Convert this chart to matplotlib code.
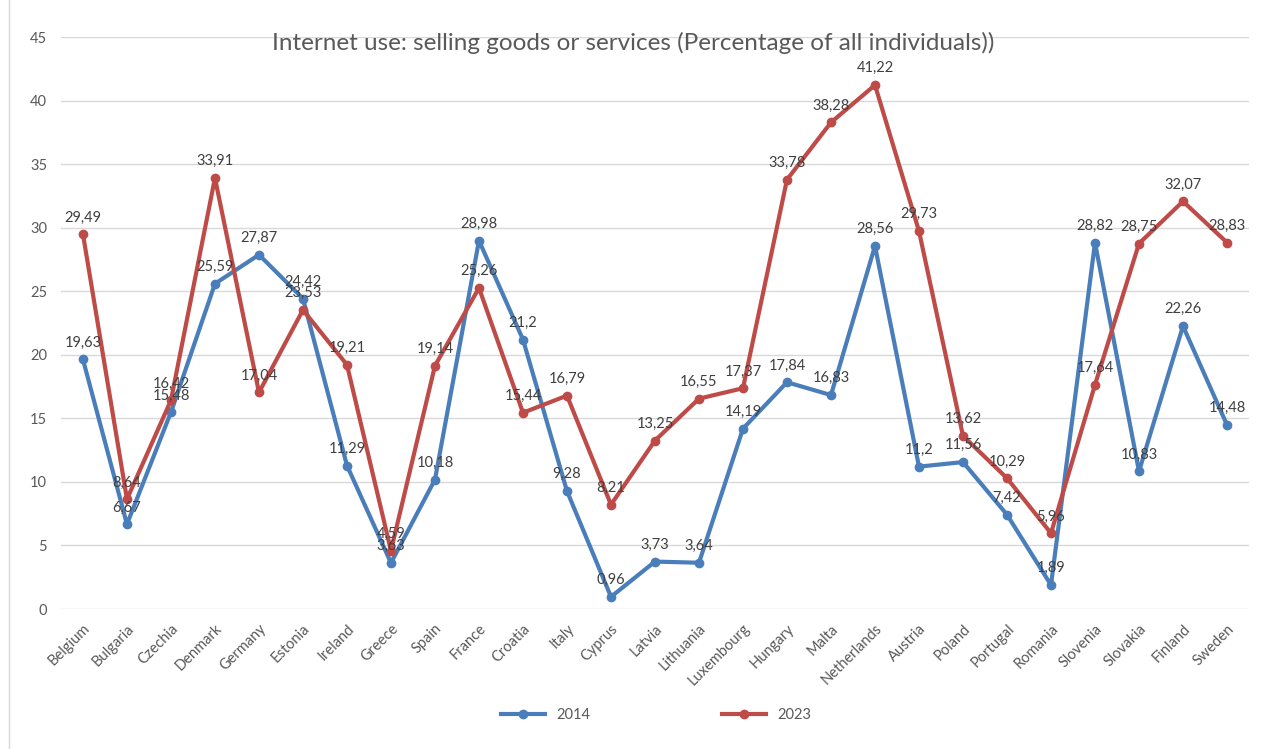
import matplotlib.pyplot as plt

# Share of individuals selling goods or services online
countries = ["Belgium", "Bulgaria", "Czechia", "Denmark", "Germany", "Estonia",
             "Ireland", "Greece", "Spain", "France", "Croatia", "Italy", "Cyprus",
             "Latvia", "Lithuania", "Luxembourg", "Hungary", "Malta", "Netherlands",
             "Austria", "Poland", "Portugal", "Romania", "Slovenia", "Slovakia",
             "Finland", "Sweden"]

values_2014 = [19.63, 6.67, 15.48, 25.59, 27.87, 24.42, 11.29, 3.63, 10.18, 28.98,
               21.2, 9.28, 0.96, 3.73, 3.64, 14.19, 17.84, 16.83, 28.56, 11.2,
               11.56, 7.42, 1.89, 28.82, 10.83, 22.26, 14.48]

values_2023 = [29.49, 8.64, 16.42, 33.91, 17.04, 23.53, 19.21, 4.59, 19.14, 25.26,
               15.44, 16.79, 8.21, 13.25, 16.55, 17.37, 33.78, 38.28, 41.22, 29.73,
               13.62, 10.29, 5.96, 17.64, 28.75, 32.07, 28.83]

blue = "#4a7ebb"
red = "#be4b48"
grey = "#595959"

plt.rcParams["font.family"] = ["Lato", "DejaVu Sans"]

fig = plt.figure(figsize=(12.62, 7.49), dpi=100)
ax = fig.add_axes([0.0483, 0.1869, 0.9414, 0.7637])

x = list(range(len(countries)))
ax.plot(x, values_2014, color=blue, lw=3, marker="o", ms=6, label="2014", zorder=3)
ax.plot(x, values_2023, color=red, lw=3, marker="o", ms=6, label="2023", zorder=3)

# value labels above every point
for series in (values_2014, values_2023):
    for i, v in enumerate(series):
        ax.annotate(f"{v:g}".replace(".", ","), (i, v), xytext=(0, 7),
                    textcoords="offset points", ha="center", va="bottom",
                    fontsize=10.5, color="#404040", zorder=4)

ax.set_xlim(-0.5, len(countries) - 0.5)
ax.set_ylim(0, 45)
ax.set_yticks(range(0, 46, 5))
ax.grid(axis="y", color="#d9d9d9", lw=1)
ax.set_axisbelow(True)
for s in ax.spines.values():
    s.set_visible(False)

ax.set_xticks(x)
ax.set_xticklabels(countries, rotation=45, ha="right", rotation_mode="anchor",
                   fontsize=10.5, color=grey)
ax.tick_params(axis="both", length=0, labelsize=10.5, colors=grey)
ax.tick_params(axis="y", pad=10)
ax.tick_params(axis="x", pad=9)

fig.text(0.5016, 0.943, "Internet use: selling goods or services (Percentage of all individuals))",
         ha="center", va="center", fontsize=17.5, color=grey)

fig.legend(loc="center", bbox_to_anchor=(0.52, 0.045), ncol=2, frameon=False,
           fontsize=10.5, columnspacing=9, handlelength=3, labelcolor=grey)

# thin frame line on the left edge
fig.add_artist(plt.Line2D([0.0075, 0.0075], [0, 1], color="#d9d9d9", lw=1))

fig.savefig("out.png", dpi=100)
